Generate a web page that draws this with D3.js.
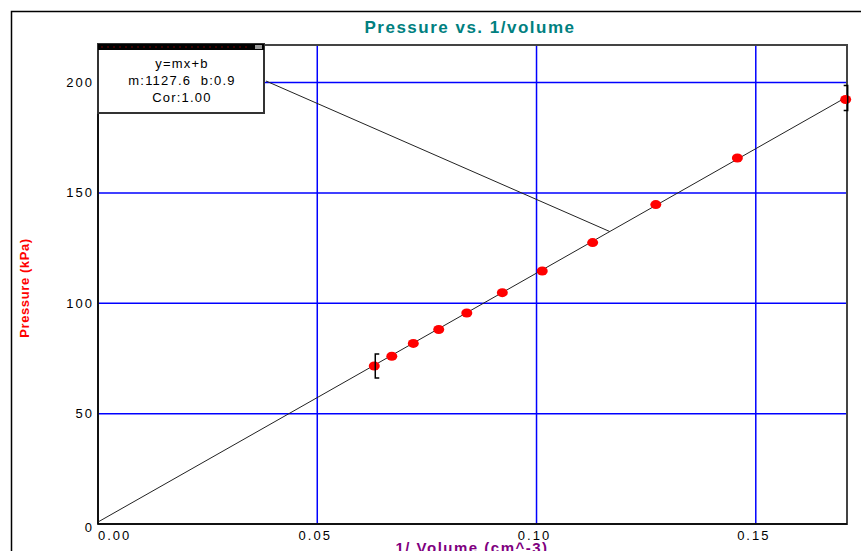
<!DOCTYPE html>
<html>
<head>
<meta charset="utf-8">
<script src="https://cdn.jsdelivr.net/npm/d3@7"></script>
<style>
body { margin: 0; background: #fff; }
svg { display: block; font-family: "Liberation Sans", Arial, sans-serif; }
</style>
</head>
<body>
<script>
// pressure vs 1/volume readings
var invVolume = [0.0630, 0.0670, 0.0719, 0.0777, 0.0841, 0.0922, 0.1013, 0.1128, 0.1272, 0.1458, 0.1705];
var pressure = [71.6, 76.0, 81.8, 88.1, 95.6, 104.8, 114.6, 127.5, 144.7, 165.8, 192.3];
var fitM = 1127.6, fitB = 0.9;
var xTicks = [0, 0.05, 0.10, 0.15];
var yTicks = [0, 50, 100, 150, 200];
var fitLabels = ['y=mx+b', 'm:1127.6  b:0.9', 'Cor:1.00'];
var leaderX = 0.1167;

var width = 861,
    height = 551,
    pLeft = 98, pRight = 847, pTop = 45, pBottom = 524,
    x = d3.scaleLinear().domain([0, 0.1708]).range([pLeft, pRight]),
    y = d3.scaleLinear().domain([0, 217]).range([pBottom, pTop]),
    svg;

function init() {
    svg = d3.select('body').append('svg')
        .attr('width', width)
        .attr('height', height);
    // outer frame
    svg.append('path')
        .attr('d', 'M11.5,' + height + 'V11.5H' + width)
        .attr('fill', 'none')
        .attr('stroke', '#000')
        .attr('stroke-width', 1.5);
    svg.append('text')
        .attr('x', 470).attr('y', 33)
        .attr('text-anchor', 'middle')
        .attr('font-size', 17).attr('font-weight', 'bold')
        .attr('letter-spacing', 1.5)
        .attr('fill', '#008080')
        .text('Pressure vs. 1/volume');
}

function grid() {
    svg.selectAll('line.vgrid')
        .data(xTicks.filter(function (d) { return d > 0; }))
        .enter().append('line')
        .attr('class', 'vgrid')
        .attr('x1', function (d) { return x(d); })
        .attr('x2', function (d) { return x(d); })
        .attr('y1', pTop).attr('y2', pBottom)
        .attr('stroke', '#0000ff').attr('stroke-width', 1.5);
    svg.selectAll('line.hgrid')
        .data(yTicks.filter(function (d) { return d > 0; }))
        .enter().append('line')
        .attr('class', 'hgrid')
        .attr('x1', pLeft).attr('x2', pRight)
        .attr('y1', function (d) { return y(d); })
        .attr('y2', function (d) { return y(d); })
        .attr('stroke', '#0000ff').attr('stroke-width', 1.5);
    // frame of plot
    svg.append('rect')
        .attr('x', pLeft).attr('y', pTop)
        .attr('width', pRight - pLeft).attr('height', pBottom - pTop)
        .attr('fill', 'none')
        .attr('stroke', '#444').attr('stroke-width', 2);
    svg.append('line')
        .attr('x1', pLeft).attr('x2', pLeft).attr('y1', pTop).attr('y2', pBottom)
        .attr('stroke', '#000').attr('stroke-width', 1.5);
    svg.append('line')
        .attr('x1', pLeft).attr('x2', pRight).attr('y1', pBottom).attr('y2', pBottom)
        .attr('stroke', '#000').attr('stroke-width', 1.5);
}

function axes() {
    svg.selectAll('text.ytick')
        .data(yTicks)
        .enter().append('text')
        .attr('class', 'ytick')
        .attr('x', 94)
        .attr('y', function (d) { return y(d) + (d === 0 ? 3 : 0); })
        .attr('dy', '0.35em')
        .attr('text-anchor', 'end')
        .attr('font-size', 13).attr('letter-spacing', 2)
        .text(function (d) { return d; });
    svg.selectAll('text.xtick')
        .data(xTicks)
        .enter().append('text')
        .attr('class', 'xtick')
        .attr('x', function (d) { return d === 0 ? x(d) : x(d) - 2; })
        .attr('y', 540)
        .attr('text-anchor', function (d) { return d === 0 ? 'start' : 'middle'; })
        .attr('font-size', 13).attr('letter-spacing', 2)
        .text(function (d) { return d3.format('.2f')(d); });
    svg.append('text')
        .attr('transform', 'translate(29,288) rotate(-90)')
        .attr('text-anchor', 'middle')
        .attr('font-size', 13).attr('font-weight', 'bold')
        .attr('letter-spacing', 0.6)
        .attr('fill', '#ff0000')
        .text('Pressure (kPa)');
    svg.append('text')
        .attr('x', 472).attr('y', 553)
        .attr('text-anchor', 'middle')
        .attr('font-size', 15).attr('font-weight', 'bold')
        .attr('letter-spacing', 1.5)
        .attr('fill', '#800080')
        .text('1/ Volume (cm^-3)');
}

function fit() {
    var line = d3.line()
        .x(function (d) { return x(d); })
        .y(function (d) { return y(fitM * d + fitB); });
    svg.append('path')
        .attr('d', line([0, x.domain()[1]]))
        .attr('fill', 'none')
        .attr('stroke', '#222').attr('stroke-width', 1);

    var pts = invVolume.map(function (v, i) { return { x: v, y: pressure[i] }; });
    svg.selectAll('ellipse.pt')
        .data(pts)
        .enter().append('ellipse')
        .attr('class', 'pt')
        .attr('cx', function (d) { return x(d.x); })
        .attr('cy', function (d) { return y(d.y); })
        .attr('rx', 5.5).attr('ry', 4.5)
        .attr('fill', '#ff0000');

    // range brackets
    var x0 = x(invVolume[0]) + 1, x1 = x(invVolume[invVolume.length - 1]) + 2;
    var y0 = y(pressure[0]), y1 = y(pressure[pressure.length - 1]);
    svg.append('path')
        .attr('d', 'M' + (x0 + 4) + ',' + (y0 - 12) + 'H' + x0 + 'V' + (y0 + 12) + 'H' + (x0 + 4))
        .attr('fill', 'none').attr('stroke', '#000').attr('stroke-width', 1.5);
    svg.append('path')
        .attr('d', 'M' + (x1 - 4) + ',' + (y1 - 14) + 'H' + x1 + 'V' + (y1 + 11) + 'H' + (x1 - 4))
        .attr('fill', 'none').attr('stroke', '#000').attr('stroke-width', 1.5);

    // legend box with leader line
    var bx = 98, by = 44, bw = 166, bh = 69;
    svg.append('line')
        .attr('x1', bx + bw + 2).attr('y1', 81)
        .attr('x2', x(leaderX)).attr('y2', y(fitM * leaderX + fitB))
        .attr('stroke', '#222').attr('stroke-width', 1);
    svg.append('rect')
        .attr('x', bx).attr('y', by).attr('width', bw).attr('height', bh)
        .attr('fill', '#fff').attr('stroke', '#333').attr('stroke-width', 2);
    svg.append('rect')
        .attr('x', bx).attr('y', by).attr('width', bw).attr('height', 6)
        .attr('fill', '#000');
    svg.selectAll('circle.dot')
        .data(d3.range(bx + 4, bx + bw - 12, 6))
        .enter().append('circle')
        .attr('class', 'dot')
        .attr('cx', function (d) { return d; })
        .attr('cy', by + 3).attr('r', 0.8)
        .attr('fill', '#800000');
    svg.append('rect')
        .attr('x', bx + bw - 9).attr('y', by + 1).attr('width', 7).attr('height', 4)
        .attr('fill', '#999');
    svg.selectAll('text.leg')
        .data(fitLabels)
        .enter().append('text')
        .attr('class', 'leg')
        .attr('x', 182)
        .attr('y', function (d, i) { return 63 + i * 17; })
        .attr('dy', '0.35em')
        .attr('text-anchor', 'middle')
        .attr('font-size', 13).attr('letter-spacing', 1.2)
        .style('white-space', 'pre')
        .text(function (d) { return d; });
}

init();
grid();
axes();
fit();
</script>
</body>
</html>
